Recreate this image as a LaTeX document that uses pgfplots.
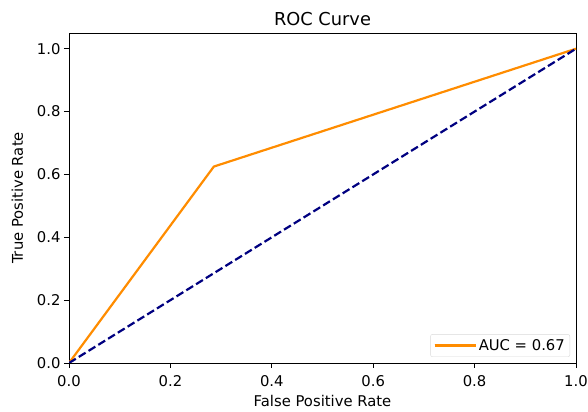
\documentclass[border=0pt]{standalone}
\usepackage{fontspec}
\setmainfont{DejaVu Sans}
\usepackage{pgfplots}
\pgfplotsset{compat=1.18}
\usetikzlibrary{calc}
\definecolor{darkorange}{RGB}{255,140,0}
\definecolor{navyblue}{RGB}{0,0,128}
\newcommand{\chartfont}{\fontsize{14.8bp}{17bp}\selectfont}
\newcommand{\titlefont}{\fontsize{17.8bp}{20bp}\selectfont}
\begin{document}
\begin{tikzpicture}[font=\chartfont]
\begin{axis}[
    scale only axis,
    width=507bp, height=330bp,
    xmin=0, xmax=1, ymin=0, ymax=1.05,
    xtick={0,0.2,0.4,0.6,0.8,1.0},
    ytick={0,0.2,0.4,0.6,0.8,1.0},
    xtick pos=bottom, ytick pos=left,
    tick align=outside,
    major tick length=5bp,
    axis line style={line width=0.8pt},
    every tick/.style={black, line width=0.8pt},
    tick label style={font=\chartfont},
    xticklabel style={yshift=-4bp},
    label style={font=\chartfont},
    /pgf/number format/.cd, fixed, fixed zerofill, precision=1, assume math mode=true,
    /pgfplots/.cd,
    title={ROC Curve},
    title style={font=\titlefont, yshift=-2bp},
    xlabel={False Positive Rate},
    ylabel={True Positive Rate},
    xlabel style={yshift=-2bp},
    ylabel style={yshift=7bp},
    legend style={at={(rel axis cs:1,0)}, anchor=south east,
        xshift=-6bp, yshift=6bp,
        draw=black!15, rounded corners=2pt, inner sep=3bp,
        font=\chartfont},
    legend cell align=left,
    legend image code/.code={\draw[#1] (0bp,0bp) -- (31bp,0bp); \path (0bp,0bp) -- (41bp,0bp);},
]
\coordinate (o) at (rel axis cs:0,0);
\addplot[darkorange, line width=2.2bp] coordinates {(0,0) (0.2857,0.625) (1,1)};
\addlegendentry{AUC = 0.67}
\addplot[navyblue, line width=2.2bp, dash pattern=on 8bp off 3.5bp, forget plot] coordinates {(0,0) (1,1)};
\end{axis}
\pgfresetboundingbox
\path ($(o)+(-69bp,-49bp)$) rectangle ($(o)+(519bp,363bp)$);
\end{tikzpicture}
\end{document}
